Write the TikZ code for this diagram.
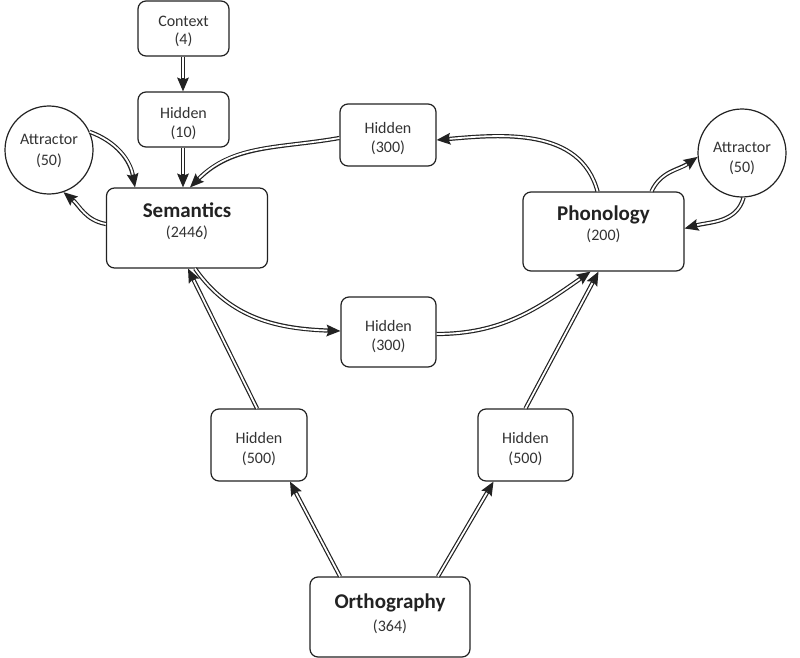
\documentclass[tikz,border=0pt]{standalone}
\usepackage{fontspec}
\setmainfont{Carlito}
\usetikzlibrary{arrows.meta}
\definecolor{ink}{HTML}{222222}
\definecolor{txt}{HTML}{333333}
\begin{document}
\begin{tikzpicture}[x=1pt,y=-1pt,
  box/.style={draw=ink, line width=1.2pt, rounded corners=8pt, fill=white, inner sep=0pt},
  circ/.style={draw=ink, line width=1.2pt, circle, fill=white, inner sep=0pt, minimum size=88pt},
  small/.style={anchor=base, font=\fontsize{16}{19}\selectfont, text=txt, inner sep=0pt},
  title/.style={anchor=base, font=\fontsize{21}{24}\selectfont\bfseries, text=ink, inner sep=0pt},
  num/.style={anchor=base, font=\fontsize{16}{19}\selectfont, text=txt, inner sep=0pt},
  tip/.tip={Stealth[length=14pt 0,width=12pt 0,inset=2.5pt 0,line width=0pt]},
  arr/.style={draw=ink, line width=4.2pt, -tip,
    postaction={draw=white, line width=1.8pt, -, shorten >=13pt}},
]
\useasboundingbox (0,0) rectangle (800,658);

% boxes
\node[box, minimum width=91pt, minimum height=55pt] (ctx) at (183.5,28.5) {};
\node[box, minimum width=91pt, minimum height=55pt] (h10) at (183.5,119.5) {};
\node[circ] (attL) at (49,150) {};
\node[box, minimum width=161pt, minimum height=80pt] (sem) at (187,228) {};
\node[box, minimum width=96pt, minimum height=62pt] (h300a) at (388,135) {};
\node[box, minimum width=161pt, minimum height=79pt] (phon) at (603.5,231.5) {};
\node[circ] (attR) at (742,153) {};
\node[box, minimum width=95pt, minimum height=70pt] (h300b) at (388.5,332) {};
\node[box, minimum width=96pt, minimum height=72pt] (h500a) at (259,445) {};
\node[box, minimum width=95pt, minimum height=72pt] (h500b) at (525.5,445) {};
\node[box, minimum width=160pt, minimum height=80pt] (orth) at (390,617) {};

% texts
\node[small] (ctxA) at (183.5,27) {Context};
\node[small] (ctxB) at (183.5,45) {(4)};
\node[small] (h10A) at (183.5,118) {Hidden};
\node[small] (h10B) at (183.5,137) {(10)};
\node[small] (attLA) at (49,144) {Attractor};
\node[small] (attLB) at (49,165) {(50)};
\node[title] (semA) at (187,217) {Semantics};
\node[num] (semB) at (187,237) {(2446)};
\node[small] (h300aA) at (388,133) {Hidden};
\node[small] (h300aB) at (388,153) {(300)};
\node[title] (phonA) at (603.5,220) {Phonology};
\node[num] (phonB) at (603.5,240) {(200)};
\node[small] (attRA) at (742,152) {Attractor};
\node[small] (attRB) at (742,172) {(50)};
\node[small] (h300bA) at (388.5,331) {Hidden};
\node[small] (h300bB) at (388.5,350) {(300)};
\node[small] (h500aA) at (259,443) {Hidden};
\node[small] (h500aB) at (259,463) {(500)};
\node[small] (h500bA) at (525.5,443) {Hidden};
\node[small] (h500bB) at (525.5,463) {(500)};
\node[title] (orthA) at (390,608) {Orthography};
\node[num] (orthB) at (390,631) {(364)};

% connectors
\draw[arr] ([xshift=-0.5pt]ctx.south) -- ([xshift=-0.5pt]h10.north);
\draw[arr] ([xshift=-0.5pt]h10.south) -- ([xshift=-0.5pt]h10.south |- sem.north);
\draw[arr] (attL.24) to[out=-20,in=100] ([xshift=-52pt]sem.north);
\draw[arr] ([yshift=4pt]sem.west) to[out=170,in=-40] (attL.-71);
\draw[arr] ([yshift=-3pt]h300a.west) to[out=190,in=45] ([xshift=3pt]sem.north);
\draw[arr] ([xshift=-6pt]phon.north) to[out=105,in=5] ([yshift=-5pt]h300a.east);
\draw[arr] ([xshift=48pt]phon.north) to[out=65,in=215] (attR.185);
\draw[arr] (attR.-88) to[out=-105,in=15] ([yshift=3pt]phon.east);
\draw[arr] ([xshift=8pt]sem.south) to[out=-55,in=178] ([yshift=1pt]h300b.west);
\draw[arr] ([yshift=-2pt]h300b.east) to[out=0,in=-145] ([xshift=-13pt]phon.south);
\draw[arr] ([xshift=-2pt]h500a.north) -- ([xshift=1pt]sem.south);
\draw[arr] (h500b.north) -- ([xshift=-5pt]phon.south);
\draw[arr] ([xshift=-50pt]orth.north) -- ([xshift=31pt]h500a.south);
\draw[arr] ([xshift=48pt]orth.north) -- ([xshift=-32pt]h500b.south);
\end{tikzpicture}
\end{document}
